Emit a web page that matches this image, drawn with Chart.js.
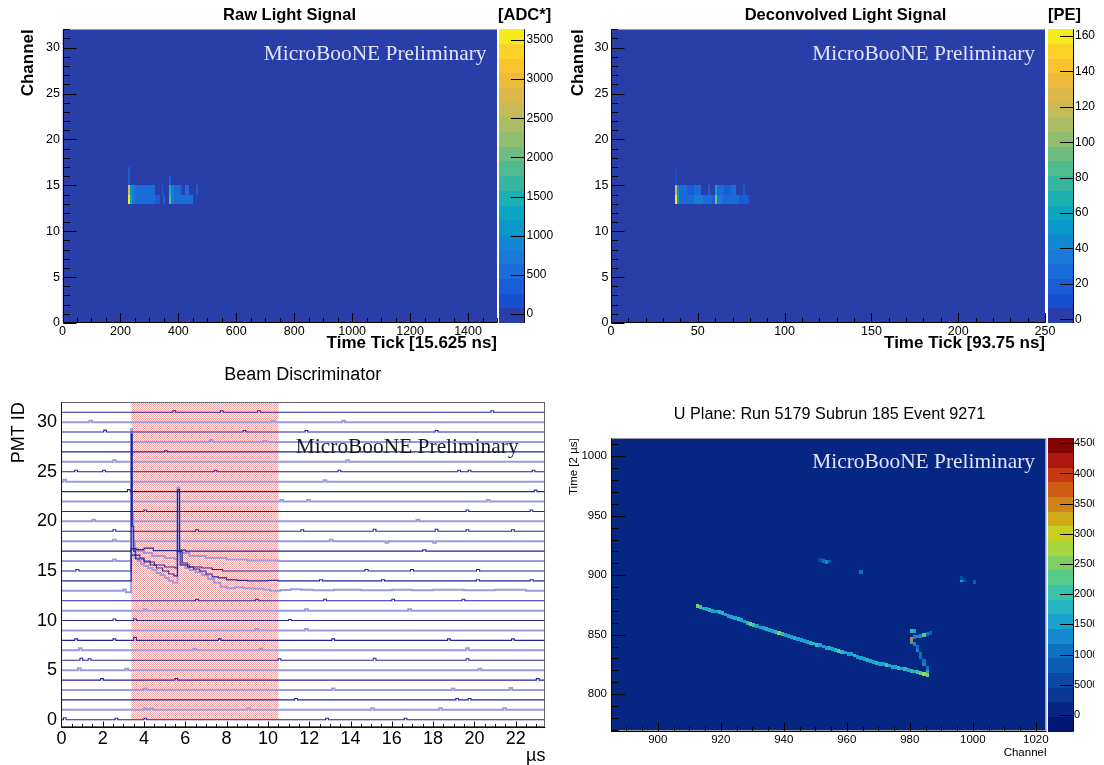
<!DOCTYPE html>
<html>
<head>
<meta charset="utf-8">
<title>MicroBooNE event display</title>
<script src="https://cdn.jsdelivr.net/npm/chart.js@4.4.1/dist/chart.umd.min.js"></script>
<style>
    html, body { margin: 0; padding: 0; background: #fff; overflow: hidden; width: 1104px; height: 765px; }
    canvas { position: absolute; }
</style>
</head>
<body>
<canvas id="raw"></canvas>
<canvas id="deconv"></canvas>
<canvas id="beam"></canvas>
<canvas id="uplane"></canvas>
<script>
// ---------- top left: raw light signal, [tick from, tick to, channel, ADC]
const rawCells = [
    [226, 233, 13, 3560], [233, 240, 13, 1300], [240, 252, 13, 700], [252, 268, 13, 560], [268, 282, 13, 620],
    [282, 300, 13, 480], [300, 318, 13, 540], [318, 336, 13, 420], [348, 355, 13, 380], [368, 375, 13, 1900],
    [375, 384, 13, 750], [384, 404, 13, 520], [404, 420, 13, 560], [420, 438, 13, 470], [438, 452, 13, 500],
    [226, 233, 14, 2700], [233, 240, 14, 1050], [240, 252, 14, 640], [252, 266, 14, 520], [266, 280, 14, 580],
    [280, 300, 14, 460], [300, 319, 14, 500], [343, 348, 14, 380], [368, 373, 14, 1450], [373, 384, 14, 700],
    [384, 395, 14, 520], [395, 406, 14, 560], [406, 413, 14, 420], [423, 436, 14, 470], [460, 467, 14, 380],
    [226, 233, 15, 420], [368, 373, 15, 360],
    [226, 233, 16, 380]
];
const rawTimeTicks = [0, 200, 400, 600, 800, 1000, 1200, 1400];
const rawAdcTicks = [0, 500, 1000, 1500, 2000, 2500, 3000, 3500];
const channelTicks = [0, 5, 10, 15, 20, 25, 30];

// ---------- top right: deconvolved light signal, [tick from, tick to, channel, PE]
const peCells = [
    [37, 38, 13, 162], [38, 39, 13, 55], [39, 42, 13, 30], [42, 48, 13, 26], [48, 53, 13, 32], [53, 58, 13, 24],
    [58, 60, 13, 20], [60, 61, 13, 95], [61, 64, 13, 34], [64, 70, 13, 27], [70, 74, 13, 30], [74, 79, 13, 22],
    [79, 80, 13, 14],
    [37, 38, 14, 118], [38, 39, 14, 42], [39, 44, 14, 24], [44, 48, 14, 20], [48, 52, 14, 24], [56, 57, 14, 16],
    [60, 61, 14, 58], [61, 65, 14, 26], [65, 69, 14, 22], [69, 72, 14, 24], [76, 77, 14, 16],
    [37, 38, 15, 14],
    [37, 38, 16, 12]
];
const peTimeTicks = [0, 50, 100, 150, 200, 250];
const peTicks = [0, 20, 40, 60, 80, 100, 120, 140, 160];

// ---------- bottom left: beam discriminator traces (µs, PMT id)
const pmtIds = [0, 1, 2, 3, 4, 5, 6, 7, 8, 9, 10, 11, 12, 13, 14, 15, 16, 17, 18, 19, 20, 21, 22, 23, 24, 25, 26, 27, 28, 29, 30, 31];
const lightPmts = [1, 3, 5, 7, 9, 11, 13, 16, 18, 20, 22, 24, 26, 28, 30];
const beamWindow = [3.38, 10.52];
// small blips on the baseline: [µs, height]
const pmtBlips = [
    [[0.1, 0.2], [2.6, 0.15], [4.0, 0.15], [12.8, 0.15], [16.6, 0.15]],
    [[4.0, 0.15], [4.3, 0.15], [9.0, 0.15], [15.0, 0.15], [18.3, 0.15], [21.4, 0.15]],
    [[11.3, 0.15], [19.1, 0.15], [19.7, 0.15]],
    [[4.0, 0.15], [13.1, 0.15], [18.9, 0.15], [21.7, 0.2]],
    [[1.9, 0.15], [5.5, 0.15], [23.0, 0.15]],
    [[0.8, 0.2], [3.1, 0.15], [20.2, 0.15]],
    [[0.9, 0.2], [1.3, 0.15], [10.5, 0.15], [15.1, 0.2], [19.6, 0.15]],
    [[0.85, 0.2], [6.4, 0.15], [9.6, 0.15], [19.6, 0.2]],
    [[0.65, 0.15], [2.5, 0.15], [3.5, 0.3], [7.6, 0.15], [13.1, 0.15], [18.7, 0.15], [21.8, 0.15]],
    [[9.4, 0.15], [11.8, 0.15]],
    [[2.5, 0.15], [3.5, 0.15], [11.0, 0.1]],
    [[4.0, 0.15], [11.8, 0.15], [16.8, 0.15]],
    [[6.5, 0.15], [9.4, 0.15], [12.7, 0.15], [16.0, 0.15], [19.4, 0.15]],
    [], [], [], [], [],
    [[2.5, 0.15], [13.0, 0.15], [15.7, -0.15], [18.0, -0.15]],
    [[2.5, 0.15], [6.5, 0.15], [11.6, 0.15], [15.1, 0.2], [18.1, 0.2], [19.6, 0.15], [21.8, 0.15]],
    [[1.5, 0.15], [17.2, 0.15]],
    [[4.0, 0.15], [19.6, 0.15], [22.7, 0.15]],
    [[10.6, 0.15], [11.9, 0.15], [20.6, 0.15]],
    [[3.2, 0.2], [22.9, 0.15]],
    [[0.1, 0.2], [12.7, 0.15]],
    [[0.65, 0.15], [2.0, 0.15], [7.4, 0.15], [13.4, 0.15], [19.2, 0.15], [19.7, 0.15], [22.8, 0.15]],
    [[2.5, 0.15], [13.8, 0.15]],
    [[5.0, 0.1]],
    [[7.2, 0.2], [9.8, 0.1]],
    [[2.05, 0.2], [8.8, 0.15], [11.8, 0.15], [18.1, 0.15]],
    [[1.35, 0.15], [10.2, 0.15], [13.6, 0.15]],
    [[5.4, 0.15], [7.7, 0.15], [9.5, 0.15], [20.8, 0.15]]
];
// traces with real pulses: [µs, level held from there]
const pmtPulses = {
    13: [[0, 13], [3.0, 13.12], [3.12, 12.85], [3.38, 29.3], [3.42, 20.8], [3.47, 17.2], [3.55, 16.3], [3.7, 16.0],
        [3.85, 15.7], [4.0, 15.5], [4.2, 15.3], [4.4, 15.1], [4.6, 14.8], [4.8, 14.6], [5.0, 14.3], [5.2, 14.0],
        [5.4, 13.8], [5.62, 23.4], [5.72, 16.8], [5.82, 15.6], [6.0, 15.3], [6.2, 15.1], [6.5, 14.9], [6.8, 14.6],
        [7.1, 14.2], [7.4, 13.8], [7.7, 13.4], [8.0, 13.25], [8.4, 13.35], [8.8, 13.25], [9.3, 13.2], [9.8, 13.1],
        [10.1, 13.0], [10.6, 13.08], [11.1, 13.15], [11.6, 13.1], [12.2, 13.05], [13.2, 13.1], [14.5, 13.05],
        [16, 13.1], [17, 13.05], [18, 13.1], [19.5, 13.05], [21, 13.1], [22.5, 13.0], [23.4375, 13.0]],
    14: [[0, 14], [3.38, 28.8], [3.43, 19.5], [3.5, 17.0], [3.6, 16.6], [3.8, 16.3], [4.0, 16.0], [4.3, 15.6],
        [4.6, 15.3], [4.9, 15.0], [5.2, 14.7], [5.45, 14.5], [5.62, 23.2], [5.72, 17.0], [5.85, 15.8], [6.1, 15.4],
        [6.4, 15.2], [6.7, 15.0], [7.0, 14.7], [7.3, 14.4], [7.6, 14.3], [8.0, 14.1], [8.5, 14.05], [9.0, 14.0],
        [10.0, 14.05], [10.5, 14.0], [12.5, 14.12], [12.65, 14.0], [15.5, 14.12], [15.65, 14.0], [20.1, 14.12],
        [20.25, 14.0], [22.7, 14.12], [22.85, 14.0], [23.4375, 14.0]],
    15: [[0, 15], [0.7, 15.15], [0.85, 15], [3.38, 16.6], [3.6, 16.2], [4.0, 15.9], [4.5, 15.6], [5.0, 15.4],
        [5.5, 15.3], [5.62, 17.0], [5.75, 15.6], [6.2, 15.4], [6.8, 15.3], [7.3, 15.15], [7.8, 15.0], [14.7, 15.15],
        [14.85, 15.0], [16.9, 15.15], [17.05, 15], [20.1, 15.15], [20.25, 15], [23.4375, 15]],
    16: [[0, 16], [2.5, 16.15], [2.63, 16], [3.38, 20.8], [3.48, 18.0], [3.56, 17.3], [3.7, 17.0], [4.0, 16.8],
        [4.4, 16.5], [5.0, 16.3], [5.5, 16.2], [5.62, 18.5], [5.72, 16.8], [6.2, 16.5], [7.0, 16.3], [8.0, 16.15],
        [9.0, 16.05], [10.5, 16.0], [23.4375, 16]],
    17: [[0, 17], [3.38, 17.25], [3.6, 17.15], [4.0, 17.3], [4.45, 17.05], [5.6, 17], [5.75, 17.1], [6.0, 17],
        [17.5, 17.12], [17.65, 17], [23.4375, 17]]
};
const usTicks = [0, 2, 4, 6, 8, 10, 12, 14, 16, 18, 20, 22];
const pmtTicks = [0, 5, 10, 15, 20, 25, 30];

// ---------- bottom right: U plane, [channel, time, ADC]
const uCells = [
    [912, 874, 2500], [913, 873, 2100], [914, 872, 1700], [915, 871.5, 1600], [916, 871, 1800], [917, 870, 1600],
    [918, 869.5, 1500], [919, 869, 1700], [920, 868, 1900], [921, 867, 1600], [922, 866, 1500], [923, 865, 1600],
    [924, 864, 1500], [925, 863, 1700], [926, 862, 1600], [927, 861, 1500], [928, 860, 1700], [929, 859, 2400],
    [930, 858, 2000], [931, 857, 1600], [932, 856, 1500], [933, 855.5, 1600], [934, 854.5, 1700], [935, 854, 1600],
    [936, 853, 1500], [937, 852, 1800], [938, 851.5, 2400], [939, 850.5, 1700], [940, 850, 1600], [941, 849, 1500],
    [942, 848, 1600], [943, 847, 1700], [944, 846.5, 1500], [945, 845.5, 1600], [946, 845, 1500], [947, 844, 1600],
    [948, 843, 1800], [949, 842.5, 1700], [950, 841.5, 2000], [951, 841, 1600], [952, 840, 1500], [953, 839, 1600],
    [954, 838.5, 1700], [955, 838, 1600], [956, 837, 1800], [957, 836, 2200], [958, 835.5, 1700], [959, 835, 1600],
    [960, 834, 1500], [961, 833.5, 1600], [962, 832.5, 1900], [963, 831.5, 1600], [964, 830.5, 1500], [965, 829.5, 1600],
    [966, 829, 1700], [967, 828, 1500], [968, 827, 1600], [969, 826, 1700], [970, 825.5, 1600], [971, 825, 1500],
    [972, 824.5, 2000], [973, 824, 1600], [974, 823, 1500], [975, 822.5, 1600], [976, 822, 1800], [977, 821.5, 1600],
    [978, 821, 1700], [979, 820, 1600], [980, 819.5, 1700], [981, 819, 1800], [982, 818.5, 2000], [983, 817.5, 2200],
    [984, 817, 2700], [985, 816, 2500],
    [985, 819.5, 1500], [985, 822, 1100], [984, 825, 1200], [984, 828, 1000], [983, 831, 1100], [983, 834, 1000],
    [982, 837, 1200], [982, 839.5, 1100], [981, 842, 1300], [980, 844, 1500], [980, 846.5, 3600], [981, 848, 1300],
    [982, 848.5, 1200], [983, 849, 1400], [984, 850, 2300], [985, 850.5, 1100], [986, 851.5, 800], [980, 853, 1700],
    [981, 853, 1500],
    [951, 912.5, 600], [952, 912, 1100], [953, 911, 1200], [954, 911.5, 700], [964, 903, 1100],
    [996, 895.5, 1600], [996, 897.5, 600], [997, 896, 500], [1000, 894, 700]
];
const uChannelTicks = [900, 920, 940, 960, 980, 1000, 1020];
const uTimeTicks = [800, 850, 900, 950, 1000];
const uAdcTicks = [0, 500, 1000, 1500, 2000, 2500, 3000, 3500, 4000, 4500];
const uAdcLabels = ['0', '5000', '1000', '1500', '2000', '2500', '3000', '3500', '4000', '4500'];

// ---------- styles
const SANS = '"Liberation Sans", Arial, Helvetica, sans-serif';
const SERIF = '"Liberation Serif", "Times New Roman", serif';
Chart.defaults.font.family = SANS;
Chart.defaults.color = '#000';

const bird = {
    min: -115, max: 3637,
    colors: ['#293ea9', '#1650d0', '#1a5ed6', '#1a6cd8', '#1a7ad8', '#1288d2', '#0a98ca', '#0aa6c0', '#1cb0b0', '#34b6a0',
        '#50ba90', '#70bc80', '#90be70', '#acbc62', '#c4ba56', '#dcb84a', '#ecbb3c', '#f8c230', '#fad228', '#f4ea1c']
};
const birdPe = { min: -2.1, max: 163.8, colors: bird.colors };
const rainbow = {
    min: -277, max: 4583,
    colors: ['#031676', '#062683', '#0a3696', '#0c48a6', '#0d5cb6', '#0e72c4', '#138acd', '#1aa2d0', '#26b6c2', '#3ac3a9',
        '#58ca8a', '#7ed066', '#a4d742', '#c6cf22', '#d0a91a', '#d08318', '#cd5e14', '#c83812', '#b01612', '#840404']
};

function shade(pal, v) {
    const n = pal.colors.length;
    const i = Math.floor((v - pal.min) / (pal.max - pal.min) * n);
    return pal.colors[Math.max(0, Math.min(n - 1, i))];
}

function steps(a, b, d) {
    const out = [];
    for (let v = a; v <= b + 1e-9; v += d) out.push(+v.toFixed(4));
    return out;
}

/**
 * 由目標位置（頁面座標）算出 padding 與軸的寬高
 */
function geometry(p) {
    const yLH = p.yTitleSize * 1.2, tLH = p.titleSize * 1.2, xLH = p.xTitleSize * 1.2, lLH = p.tickSize * 1.2;
    const padL = p.yTitleX - p.canvas.x - yLH / 2 - 2;
    const padR = p.canvas.w + padL - 2 * (p.titleX - p.canvas.x);
    return {
        padding: { left: padL, right: padR, top: 0, bottom: 0 },
        titlePad: { top: p.titleY - p.canvas.y - tLH / 2, bottom: p.plot.t - p.titleY - tLH / 2 },
        yWidth: p.plot.l - p.canvas.x - padL,
        rWidth: p.canvas.x + p.canvas.w - padR - p.plot.r,
        xHeight: p.canvas.y + p.canvas.h - p.plot.b,
        xTitlePad: p.canvas.y + p.canvas.h - p.xTitleY - xLH / 2,
        xTickPad: p.xLabelY - p.plot.b - lLH / 2,
        yTickPad: p.plot.l - p.yLabelRight,
        zTickPad: p.zLabelLeft ? p.zLabelLeft - p.plot.r : 0
    };
}

function makeCanvas(id, c) {
    const el = document.getElementById(id);
    el.width = c.w;
    el.height = c.h;
    Object.assign(el.style, { left: c.x + 'px', top: c.y + 'px', width: c.w + 'px', height: c.h + 'px' });
    return el;
}

// ROOT 風格：框線、內側刻度、色條、浮水印
function decor(cfg) {
    const ox = cfg.canvas.x, oy = cfg.canvas.y;
    return {
        id: 'decor',
        beforeDatasetsDraw(chart) {
            const { ctx, chartArea: a, scales: s } = chart;
            if (!cfg.palette) return;
            ctx.save();
            ctx.beginPath();
            ctx.rect(a.left, a.top, a.width, a.height);
            ctx.clip();
            ctx.fillStyle = shade(cfg.palette, 0);
            ctx.fillRect(a.left, a.top, a.width, a.height);
            chart.data.datasets.forEach(ds => (ds.cells ? ds.data : []).forEach(c => {
                const x0 = Math.round(s.x.getPixelForValue(c.x0)), x1 = Math.round(s.x.getPixelForValue(c.x1));
                const y0 = Math.round(s.y.getPixelForValue(c.y0)), y1 = Math.round(s.y.getPixelForValue(c.y1));
                ctx.fillStyle = shade(cfg.palette, c.v);
                ctx.fillRect(Math.min(x0, x1), Math.min(y0, y1), Math.max(1, Math.abs(x1 - x0)), Math.max(1, Math.abs(y1 - y0)));
            }));
            ctx.restore();
        },
        afterDatasetsDraw(chart) {
            const { ctx, chartArea: a, scales: s } = chart;
            ctx.save();
            ctx.lineWidth = 1;

            // colour bar
            if (cfg.palette && s.z) {
                const p = cfg.palette, n = p.colors.length, step = (p.max - p.min) / n;
                const l = Math.round(a.right + cfg.cb.gap), r = Math.round(l + cfg.cb.width);
                for (let i = 0; i < n; i++) {
                    const yb = Math.round(s.z.getPixelForValue(p.min + i * step));
                    const yt = Math.round(s.z.getPixelForValue(p.min + (i + 1) * step));
                    ctx.fillStyle = p.colors[i];
                    ctx.fillRect(l, yt, r - l, yb - yt);
                }
                ctx.strokeStyle = '#000';
                ctx.beginPath();
                s.z.ticks.forEach(t => {
                    const y = Math.round(s.z.getPixelForValue(t.value)) + 0.5;
                    ctx.moveTo(r - 13, y);
                    ctx.lineTo(r, y);
                });
                ctx.moveTo(r + 0.5, a.top);
                ctx.lineTo(r + 0.5, a.bottom);
                ctx.stroke();
            }

            // frame
            if (cfg.box) {
                ctx.strokeStyle = cfg.box;
                ctx.strokeRect(Math.round(a.left) + 0.5, Math.round(a.top) + 0.5, Math.round(a.width) - 1, Math.round(a.height) - 1);
            }
            ctx.strokeStyle = cfg.axisColor;
            ctx.beginPath();
            const L = Math.round(a.left) + 0.5, B = Math.round(a.bottom) - 0.5;
            ctx.moveTo(L, a.top);
            ctx.lineTo(L, B);
            ctx.lineTo(a.right, B);
            cfg.marks.forEach(m => {
                const sc = s[m.axis];
                m.values.forEach(v => {
                    if (v < sc.min || v > sc.max) return;
                    const px = Math.round(sc.getPixelForValue(v)) + 0.5;
                    if (m.axis === 'x') { ctx.moveTo(px, B); ctx.lineTo(px, B - m.len); }
                    else { ctx.moveTo(L, px); ctx.lineTo(L + m.len, px); }
                });
            });
            ctx.stroke();

            // texts
            cfg.texts.forEach(t => {
                ctx.font = t.font;
                ctx.fillStyle = t.color;
                ctx.textAlign = t.align;
                ctx.textBaseline = 'middle';
                ctx.fillText(t.text, t.x - ox, t.y - oy);
            });
            ctx.restore();
        }
    };
}

function fixedTicks(list) {
    return s => { s.ticks = list.map(v => ({ value: v })); };
}

function axisX(g, min, max, ticks, size, title, titleFont, label) {
    return {
        type: 'linear', position: 'bottom', min, max, bounds: 'data',
        afterBuildTicks: fixedTicks(ticks),
        afterFit: s => { s.height = g.xHeight; },
        ticks: { autoSkip: false, maxRotation: 0, padding: g.xTickPad, font: { size }, callback: label || (v => String(v)) },
        grid: { display: false, drawTicks: false },
        border: { display: false },
        title: { display: true, text: title, align: 'end', font: titleFont, padding: { top: 0, bottom: g.xTitlePad } }
    };
}

function axisY(g, min, max, ticks, size, title, titleFont) {
    return {
        type: 'linear', position: 'left', min, max, bounds: 'data',
        afterBuildTicks: fixedTicks(ticks),
        afterFit: s => { s.width = g.yWidth; },
        ticks: { autoSkip: false, padding: g.yTickPad, font: { size }, callback: v => String(v) },
        grid: { display: false, drawTicks: false },
        border: { display: false },
        title: { display: true, text: title, align: 'end', font: titleFont, padding: { top: 2, bottom: 0 } }
    };
}

// colour-bar axis: the gap to the labels is an invisible tick length, so it does not push the plot down
function axisZ(g, pal, ticks, size, labels) {
    return {
        type: 'linear', position: 'right', min: pal.min, max: pal.max, bounds: 'data',
        afterBuildTicks: fixedTicks(ticks),
        afterFit: s => { s.width = g.rWidth; },
        ticks: { autoSkip: false, padding: 0, font: { size }, callback: labels ? ((v, i) => labels[i]) : (v => String(v)) },
        grid: { display: true, drawOnChartArea: false, drawTicks: true, tickLength: g.zTickPad, tickColor: 'rgba(0,0,0,0)' },
        border: { display: false }
    };
}

function baseOptions(g, title, titleFont) {
    return {
        responsive: false, animation: false, events: [],
        layout: { padding: g.padding },
        plugins: {
            legend: { display: false },
            tooltip: { enabled: false },
            title: { display: true, text: title, font: titleFont, padding: g.titlePad, color: '#000' }
        }
    };
}

function heatChart(id, p, spec) {
    const g = geometry(p);
    const opts = baseOptions(g, spec.title, spec.titleFont);
    opts.scales = {
        x: axisX(g, spec.x[0], spec.x[1], spec.xTicks, p.tickSize, spec.xTitle, spec.axisFont),
        y: axisY(g, spec.y[0], spec.y[1], spec.yTicks, p.tickSize, spec.yTitle, spec.axisFont),
        z: axisZ(g, spec.palette, spec.zTicks, spec.zSize, spec.zLabels)
    };
    return new Chart(makeCanvas(id, p.canvas), {
        type: 'scatter',
        data: { datasets: [{ cells: true, data: spec.cells, pointRadius: 0 }] },
        options: opts,
        plugins: [decor({
            canvas: p.canvas, palette: spec.palette, cb: spec.cb, axisColor: '#000', box: spec.box,
            marks: spec.marks, texts: spec.texts
        })]
    });
}

// ---------- top left
heatChart('raw', {
    canvas: { x: 0, y: 0, w: 570, h: 360 },
    plot: { l: 62.5, r: 497, t: 29.3, b: 323 },
    titleX: 289.5, titleY: 15, titleSize: 16.5,
    yTitleX: 28.5, yTitleSize: 17, xTitleY: 343, xTitleSize: 17,
    xLabelY: 331.7, tickSize: 12.5, yLabelRight: 60, zLabelLeft: 526.5
}, {
    title: 'Raw Light Signal', titleFont: { size: 16.5, weight: 'bold' }, axisFont: { size: 17, weight: 'bold' },
    x: [0, 1500], xTicks: rawTimeTicks, xTitle: 'Time Tick [15.625 ns]',
    y: [0, 32], yTicks: channelTicks, yTitle: 'Channel',
    palette: bird, zTicks: rawAdcTicks, zSize: 12, cb: { gap: 2, width: 24.5 },
    cells: rawCells.map(([t0, t1, ch, adc]) => ({ x: (t0 + t1) / 2, y: ch + 0.5, x0: t0, x1: t1, y0: ch, y1: ch + 1, v: adc })),
    marks: [
        { axis: 'x', values: rawTimeTicks, len: 9.5 }, { axis: 'x', values: steps(0, 1500, 50), len: 4.5 },
        { axis: 'y', values: channelTicks, len: 13 }, { axis: 'y', values: steps(0, 32, 1), len: 6.5 }
    ],
    texts: [
        { text: '[ADC*]', x: 498, y: 15, font: 'bold 16.5px ' + SANS, color: '#000', align: 'left' },
        { text: 'MicroBooNE Preliminary', x: 486.5, y: 54, font: '21.4px ' + SERIF, color: '#e4e4fb', align: 'right' }
    ]
});

// ---------- top right
heatChart('deconv', {
    canvas: { x: 549, y: 0, w: 600, h: 360 },
    plot: { l: 611, r: 1045, t: 29.3, b: 323 },
    titleX: 845.5, titleY: 15, titleSize: 16.5,
    yTitleX: 578, yTitleSize: 17, xTitleY: 343.3, xTitleSize: 17,
    xLabelY: 331.7, tickSize: 12.5, yLabelRight: 608.5, zLabelLeft: 1075
}, {
    title: 'Deconvolved Light Signal', titleFont: { size: 16.5, weight: 'bold' }, axisFont: { size: 17, weight: 'bold' },
    x: [0, 250], xTicks: peTimeTicks, xTitle: 'Time Tick [93.75 ns]',
    y: [0, 32], yTicks: channelTicks, yTitle: 'Channel',
    palette: birdPe, zTicks: peTicks, zSize: 12, cb: { gap: 2.5, width: 24.5 },
    cells: peCells.map(([t0, t1, ch, pe]) => ({ x: (t0 + t1) / 2, y: ch + 0.5, x0: t0, x1: t1, y0: ch, y1: ch + 1, v: pe })),
    marks: [
        { axis: 'x', values: peTimeTicks, len: 9.5 }, { axis: 'x', values: steps(0, 250, 10), len: 4.5 },
        { axis: 'y', values: channelTicks, len: 13 }, { axis: 'y', values: steps(0, 32, 1), len: 6.5 }
    ],
    texts: [
        { text: '[PE]', x: 1048, y: 15, font: 'bold 16.5px ' + SANS, color: '#000', align: 'left' },
        { text: 'MicroBooNE Preliminary', x: 1035, y: 54, font: '21.4px ' + SERIF, color: '#e4e4fb', align: 'right' }
    ]
});

// ---------- bottom right
heatChart('uplane', {
    canvas: { x: 549, y: 390, w: 600, h: 375 },
    plot: { l: 611, r: 1046.5, t: 438.3, b: 731.7 },
    titleX: 829.5, titleY: 415, titleSize: 16.2,
    yTitleX: 573.5, yTitleSize: 11.5, xTitleY: 752.7, xTitleSize: 11.5,
    xLabelY: 740, tickSize: 11.5, yLabelRight: 607, zLabelLeft: 1074
}, {
    title: 'U Plane: Run 5179 Subrun 185 Event 9271', titleFont: { size: 16.2, weight: 'normal' },
    axisFont: { size: 11.5, weight: 'normal' },
    x: [885.15, 1023.4], xTicks: uChannelTicks, xTitle: 'Channel',
    y: [768.4, 1015.1], yTicks: uTimeTicks, yTitle: 'Time [2 µs]',
    palette: rainbow, zTicks: uAdcTicks, zSize: 11, zLabels: uAdcLabels, cb: { gap: 1.5, width: 25 },
    box: '#9a9aa8',
    cells: uCells.map(([ch, t, adc]) => ({ x: ch + 0.5, y: t, x0: ch, x1: ch + 1, y0: t - 1.6, y1: t + 1.6, v: adc })),
    marks: [
        { axis: 'x', values: uChannelTicks, len: 9 }, { axis: 'x', values: steps(890, 1020, 5), len: 4.5 },
        { axis: 'y', values: uTimeTicks, len: 14 }, { axis: 'y', values: steps(770, 1010, 10), len: 7 }
    ],
    texts: [
        { text: 'MicroBooNE Preliminary', x: 1035, y: 462.7, font: '21.4px ' + SERIF, color: '#e4e4fb', align: 'right' }
    ]
});

// ---------- bottom left: beam discriminator
(function () {
    const p = {
        canvas: { x: 0, y: 360, w: 600, h: 410 },
        plot: { l: 61.4, r: 545.4, t: 402.3, b: 727.7 },
        titleX: 302.7, titleY: 375, titleSize: 18,
        yTitleX: 18.8, yTitleSize: 18, xTitleY: 756, xTitleSize: 18,
        xLabelY: 739.3, tickSize: 18, yLabelRight: 57
    };
    const g = geometry(p);
    const usMax = 23.4375;

    function tracePoints(id) {
        let pts;
        if (pmtPulses[id]) {
            pts = pmtPulses[id];
        } else {
            pts = [[0, id]];
            pmtBlips[id].forEach(([bx, dy]) => { pts.push([bx, id + dy], [bx + 0.13, id]); });
            pts.push([usMax, id]);
        }
        // histogram style: each level is held until the next point
        const out = [];
        pts.forEach(([x, y], i) => {
            if (i > 0) out.push({ x, y: pts[i - 1][1] });
            out.push({ x, y });
        });
        return out;
    }

    const pattern = (() => {
        const c = document.createElement('canvas');
        c.width = 2; c.height = 2;
        const cx = c.getContext('2d');
        cx.fillStyle = '#f6a2a2';
        cx.fillRect(0, 0, 1, 1);
        cx.fillRect(1, 1, 1, 1);
        return cx.createPattern(c, 'repeat');
    })();

    const traces = pmtIds.map(id => {
        const light = lightPmts.includes(id);
        return {
            data: tracePoints(id),
            borderColor: light ? '#9c9cdc' : '#23239b',
            borderWidth: light ? 2 : 1.1,
            pointRadius: 0, fill: false, tension: 0,
            order: light ? 2 : 1
        };
    });
    const shadeSet = {
        data: [{ x: beamWindow[0], y: 32 }, { x: beamWindow[1], y: 32 }],
        borderWidth: 0, pointRadius: 0, backgroundColor: pattern, fill: { value: 0 }, order: 10
    };

    const opts = baseOptions(g, 'Beam Discriminator', { size: 18, weight: 'normal' });
    opts.scales = {
        x: axisX(g, 0, usMax, usTicks, 18, 'µs', { size: 18, weight: 'normal' }),
        y: axisY(g, -0.8, 32, pmtTicks, 18, 'PMT ID', { size: 18, weight: 'normal' }),
        yr: {
            type: 'linear', position: 'right', min: 0, max: 1, display: true,
            afterFit: s => { s.width = g.rWidth; },
            ticks: { display: false }, grid: { display: false, drawTicks: false }, border: { display: false }
        }
    };
    new Chart(makeCanvas('beam', p.canvas), {
        type: 'line',
        data: { datasets: traces.concat([shadeSet]) },
        options: opts,
        plugins: [decor({
            canvas: p.canvas, axisColor: '#111', box: '#666',
            marks: [{ axis: 'x', values: usTicks, len: 6 }, { axis: 'x', values: steps(0, 23, 0.5), len: 3.5 }],
            texts: [
                { text: 'MicroBooNE Preliminary', x: 518.6, y: 447.3, font: '21.4px ' + SERIF, color: '#1a1a1a', align: 'right' }
            ]
        })]
    });
})();
</script>
</body>
</html>
